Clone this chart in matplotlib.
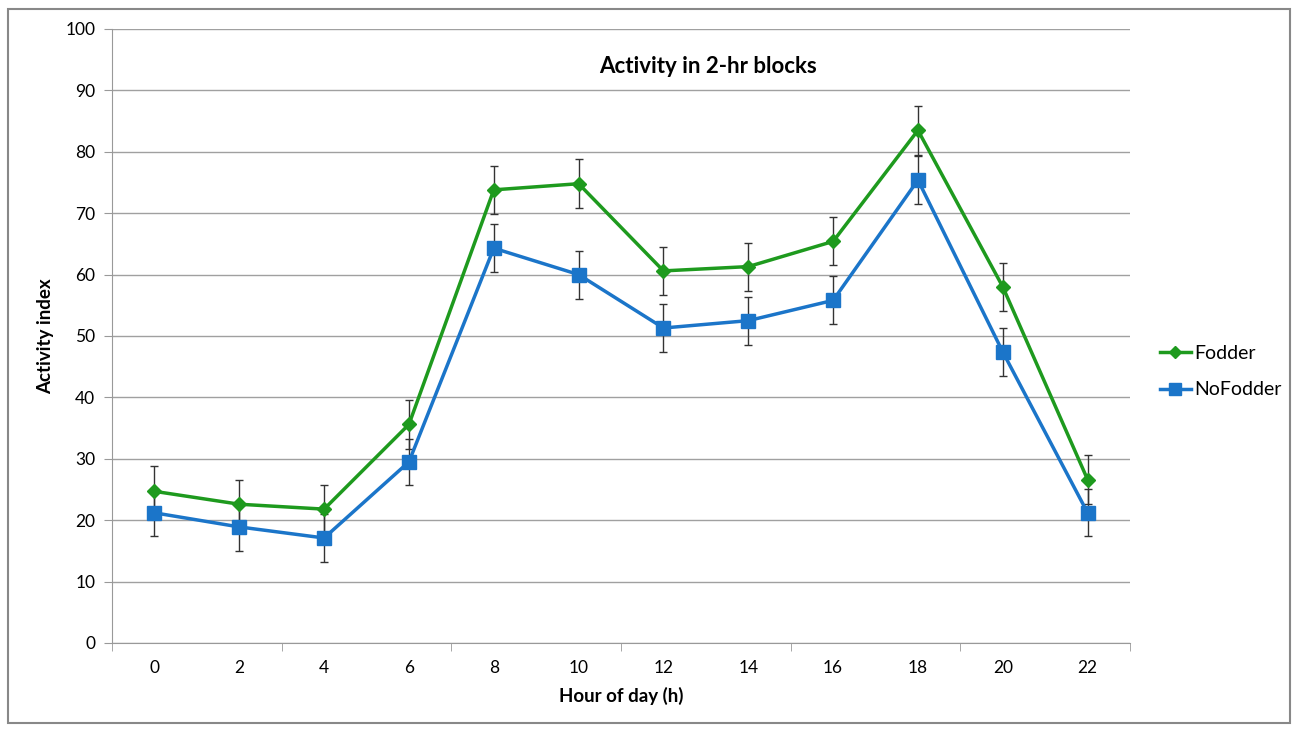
import matplotlib
matplotlib.use('Agg')
import matplotlib.pyplot as plt
from matplotlib.patches import Rectangle
from matplotlib.lines import Line2D

plt.rcParams['font.family'] = ['Lato', 'DejaVu Sans']

hours = ['0', '2', '4', '6', '8', '10', '12', '14', '16', '18', '20', '22']
fodder = [24.7, 22.6, 21.8, 35.6, 73.8, 74.8, 60.6, 61.3, 65.4, 83.5, 58.0, 26.6]
fodder_err = [4.1, 4.0, 4.0, 4.0, 3.9, 4.0, 3.9, 3.9, 3.9, 4.0, 3.9, 4.0]
nofodder = [21.2, 18.9, 17.1, 29.5, 64.3, 60.0, 51.3, 52.5, 55.8, 75.4, 47.4, 21.2]
nofodder_err = [3.8, 3.9, 3.9, 3.8, 3.9, 3.9, 3.9, 3.9, 3.9, 3.9, 3.9, 3.8]

green = '#1E9A1E'
blue = '#1B75C9'

fig = plt.figure(figsize=(12.98, 7.30), dpi=100)
ax = fig.add_axes([0.0863, 0.1192, 0.7843, 0.8411])

x = list(range(len(hours)))
ax.errorbar(x, fodder, yerr=fodder_err, color=green, lw=2.5, marker='D', ms=7,
            ecolor='#333333', elinewidth=1, capsize=3, zorder=3)
ax.errorbar(x, nofodder, yerr=nofodder_err, color=blue, lw=2.5, marker='s', ms=10,
            ecolor='#333333', elinewidth=1, capsize=3, zorder=3)

ax.set_xlim(-0.5, len(hours) - 0.5)
ax.set_ylim(0, 100)
ax.set_yticks(range(0, 101, 10))
ax.set_xticks(x)
ax.set_xticklabels(hours)
ax.set_xticks([i - 0.5 for i in range(0, len(hours) + 1, 2)], minor=True)
ax.tick_params(axis='x', which='major', length=0, labelsize=12.5, pad=12)
ax.tick_params(axis='x', which='minor', length=6, color='#999999')
ax.tick_params(axis='y', length=6, color='#999999', labelsize=12.5, pad=6)
ax.grid(axis='y', color='#A0A0A0', lw=1)
ax.set_axisbelow(True)
for s in ['top', 'right']:
    ax.spines[s].set_visible(False)
ax.spines['left'].set_color('#999999')
ax.spines['bottom'].set_color('#999999')

ax.set_xlabel('Hour of day (h)', fontsize=13.5, fontweight='bold', labelpad=8)
ax.set_ylabel('Activity index', fontsize=13.5, fontweight='bold', labelpad=8)
ax.set_title('Activity in 2-hr blocks', fontsize=16, fontweight='bold',
             x=0.585, y=0.915)

handles = [Line2D([], [], color=green, lw=2.5, marker='D', ms=6),
           Line2D([], [], color=blue, lw=2.5, marker='s', ms=8)]
ax.legend(handles, ['Fodder', 'NoFodder'], loc='center left',
          bbox_to_anchor=(1.012, 0.442), frameon=False, fontsize=14,
          handlelength=1.6, handletextpad=0.15, labelspacing=1.0)

fig.patches.append(Rectangle((0.006, 0.01), 0.988, 0.978, transform=fig.transFigure,
                             fill=False, edgecolor='#888888', lw=1.5))

fig.savefig('out.png', dpi=100)
